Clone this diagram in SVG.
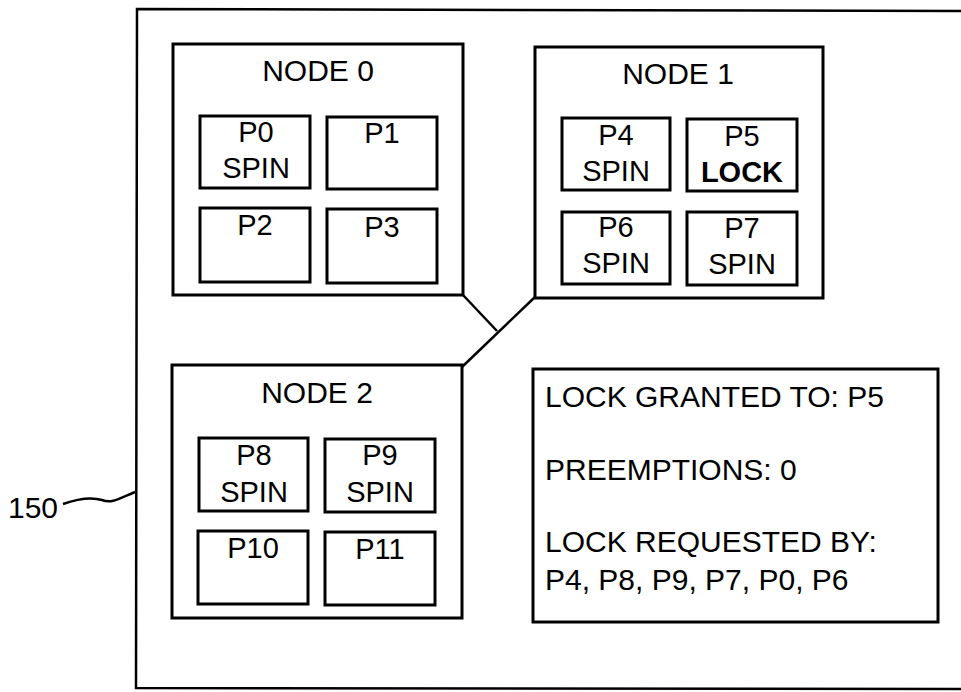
<svg xmlns="http://www.w3.org/2000/svg" width="961" height="692" viewBox="0 0 961 692">
<style>
.box{fill:#fff;stroke:#000;stroke-width:3}
.outer{fill:none;stroke:#000;stroke-width:2.5}
.ln{fill:none;stroke:#000;stroke-width:2.5}
text{font-family:"Liberation Sans",Arial,sans-serif;fill:#000}
.t{font-size:30px;text-anchor:middle}
.p{font-size:29px;text-anchor:middle}
.s{font-size:30px}
.b{font-weight:bold}
</style>
<rect width="961" height="692" fill="#fff"/>
<g id="system-150">
<path class="outer" d="M970,11 L137,9 L136,688 L970,689"/>
<text class="s" x="8" y="518">150</text>
<path class="ln" d="M63,504 C80,498 92,497 102,500 C112,504 120,498 135,492"/>
</g>
<g id="connectors">
<path class="ln" d="M463,295 L497,331"/>
<path class="ln" d="M535,297 L462,367"/>
</g>
<g id="node0">
<rect class="box" x="173" y="44" width="290" height="251"/>
<text class="t" x="318" y="81">NODE 0</text>
<rect class="box" x="200" y="116" width="110" height="72"/>
<text class="p" x="256" y="142">P0</text>
<text class="p" x="256" y="178">SPIN</text>
<rect class="box" x="327" y="117" width="110" height="72"/>
<text class="p" x="382" y="143">P1</text>
<rect class="box" x="200" y="208" width="110" height="74"/>
<text class="p" x="255" y="235">P2</text>
<rect class="box" x="327" y="209" width="110" height="74"/>
<text class="p" x="382" y="237">P3</text>
</g>
<g id="node1">
<rect class="box" x="535" y="47" width="288" height="251"/>
<text class="t" x="678" y="84">NODE 1</text>
<rect class="box" x="562" y="118" width="108" height="72"/>
<text class="p" x="616" y="145">P4</text>
<text class="p" x="616" y="181">SPIN</text>
<rect class="box" x="687" y="119" width="110" height="72"/>
<text class="p" x="742" y="146">P5</text>
<text class="p b" x="742" y="182">LOCK</text>
<rect class="box" x="562" y="212" width="108" height="72"/>
<text class="p" x="616" y="237">P6</text>
<text class="p" x="616" y="273">SPIN</text>
<rect class="box" x="687" y="212" width="110" height="73"/>
<text class="p" x="742" y="238">P7</text>
<text class="p" x="742" y="274">SPIN</text>
</g>
<g id="node2">
<rect class="box" x="172" y="365" width="290" height="253"/>
<text class="t" x="317" y="403">NODE 2</text>
<rect class="box" x="199" y="438" width="109" height="73"/>
<text class="p" x="254" y="465">P8</text>
<text class="p" x="254" y="502">SPIN</text>
<rect class="box" x="325" y="439" width="110" height="73"/>
<text class="p" x="380" y="465">P9</text>
<text class="p" x="380" y="502">SPIN</text>
<rect class="box" x="198" y="531" width="110" height="73"/>
<text class="p" x="253" y="558">P10</text>
<rect class="box" x="325" y="532" width="110" height="73"/>
<text class="p" x="380" y="559">P11</text>
</g>
<g id="lock-status">
<rect class="box" x="533" y="369" width="405" height="253"/>
<text class="s" x="545" y="407">LOCK GRANTED TO: P5</text>
<text class="s" x="545" y="480">PREEMPTIONS: 0</text>
<text class="s" x="545" y="552">LOCK REQUESTED BY:</text>
<text class="s" x="545" y="590">P4, P8, P9, P7, P0, P6</text>
</g>
</svg>
